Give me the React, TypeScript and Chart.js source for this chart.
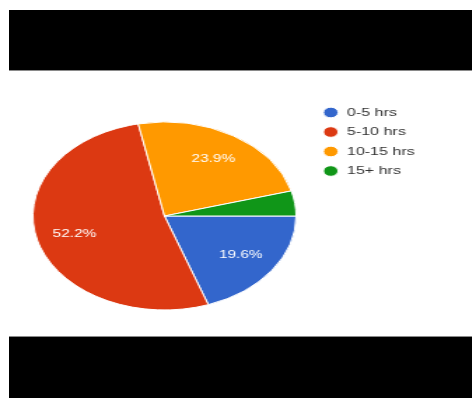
import React, { useEffect, useRef } from "react";
import { Chart, registerables } from "chart.js";

Chart.register(...registerables);

const categories = ["0-5 hrs", "5-10 hrs", "10-15 hrs", "15+ hrs"];
const shares = [19.6, 52.2, 23.9, 4.3];
const sliceColors = ["#3366cc", "#dc3912", "#ff9900", "#109618"];

const STRETCH = 1.4;
const CW = 337;
const CH = 398;
const FONT_FAMILY = "'Liberation Sans', Arial, sans-serif";
const LEGEND_FONT = 11.5;
const LEGEND_PAD = 8;
const LEGEND_BOX = 12;
const PIE_LEFT = 12.5;
const PIE_AREA_W = 210;

const sliceLabels = {
  id: "sliceLabels",
  afterDatasetsDraw(chart: any) {
    const meta = chart.getDatasetMeta(0);
    const data = chart.data.datasets[0].data as number[];
    const total = data.reduce((a, b) => a + b, 0);
    const ctx = chart.ctx;
    ctx.save();
    ctx.fillStyle = "#ffffff";
    ctx.font = "11px " + FONT_FAMILY;
    ctx.textAlign = "center";
    ctx.textBaseline = "middle";
    meta.data.forEach((arc: any, i: number) => {
      const pct = (data[i] / total) * 100;
      if (pct < 5) return;
      const { x, y, startAngle, endAngle, outerRadius } = arc.getProps(
        ["x", "y", "startAngle", "endAngle", "outerRadius"],
        true
      );
      const mid = (startAngle + endAngle) / 2;
      const r = outerRadius * 0.71;
      ctx.fillText(pct.toFixed(1) + "%", x + Math.cos(mid) * r, y + Math.sin(mid) * r);
    });
    ctx.restore();
  },
};

function PieChart() {
  const ref = useRef<HTMLCanvasElement | null>(null);
  useEffect(() => {
    if (!ref.current) return;
    const mctx = ref.current.getContext("2d")!;
    mctx.font = `normal ${LEGEND_FONT}px ${FONT_FAMILY}`;
    const maxText = Math.max(...categories.map((c) => mctx.measureText(c).width));
    const boxW = Math.min(LEGEND_BOX, LEGEND_FONT);
    const legendW = LEGEND_PAD + boxW + LEGEND_FONT / 2 + maxText + 10;
    const padRight = CW - PIE_LEFT - PIE_AREA_W - legendW;
    const chart = new Chart(ref.current, {
      type: "pie",
      data: {
        labels: categories,
        datasets: [
          {
            data: shares,
            backgroundColor: sliceColors,
            borderColor: "#ffffff",
            borderWidth: 1,
          },
        ],
      },
      options: {
        animation: false,
        responsive: false,
        rotation: 90,
        radius: 94,
        layout: { padding: { top: 98.75, bottom: 64.75, left: PIE_LEFT, right: padRight } },
        plugins: {
          tooltip: { enabled: false },
          legend: {
            position: "right",
            align: "start",
            labels: {
              usePointStyle: true,
              pointStyle: "circle",
              boxWidth: LEGEND_BOX,
              boxHeight: 7.5,
              padding: LEGEND_PAD,
              color: "#333333",
              font: { size: LEGEND_FONT, family: FONT_FAMILY },
            },
          },
        },
      } as any,
      plugins: [sliceLabels],
    });
    return () => chart.destroy();
  }, []);
  return (
    <canvas
      ref={ref}
      width={CW}
      height={CH}
      style={{ width: CW + "px", height: CH + "px", display: "block" }}
    />
  );
}

export default function App() {
  return (
    <div
      style={{
        position: "fixed",
        left: 0,
        top: 0,
        width: 472,
        height: 398,
        background: "#ffffff",
        overflow: "hidden",
      }}
    >
      <div
        style={{
          position: "absolute",
          left: 9,
          top: 10,
          width: 463,
          height: 60,
          background: "#000",
          borderBottom: "1px solid #8a8a8a",
        }}
      />
      <div
        style={{
          position: "absolute",
          left: 9,
          top: 336,
          width: 463,
          height: 62,
          background: "#000",
          borderTop: "1px solid #8a8a8a",
          boxSizing: "border-box",
        }}
      />
      <div
        style={{
          position: "absolute",
          left: 0,
          top: 0,
          width: CW,
          height: CH,
          transform: `scaleX(${STRETCH})`,
          transformOrigin: "0 0",
        }}
      >
        <PieChart />
      </div>
    </div>
  );
}
